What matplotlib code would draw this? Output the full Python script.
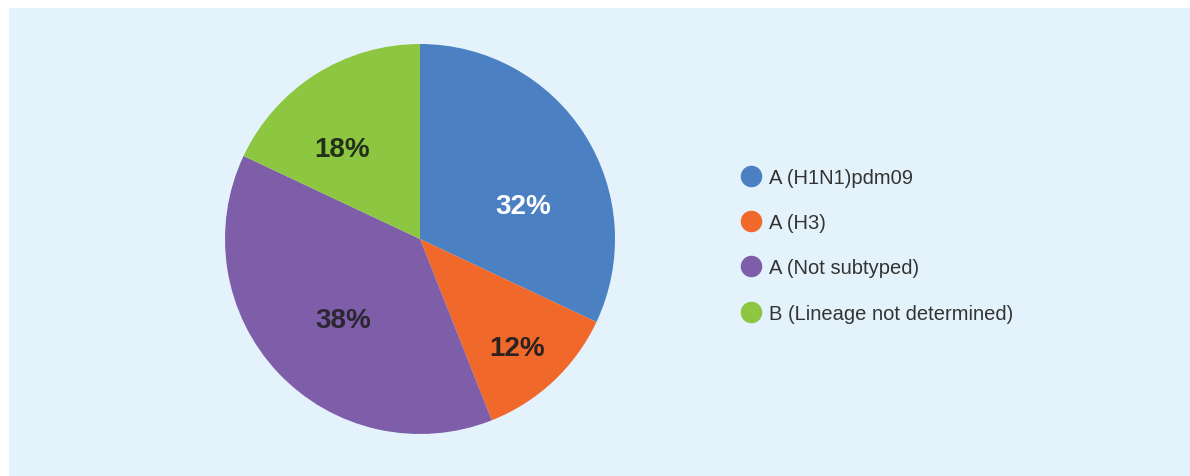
import matplotlib
matplotlib.use("Agg")
import matplotlib.pyplot as plt
from matplotlib.lines import Line2D

categories = ["A (H1N1)pdm09", "A (H3)", "A (Not subtyped)", "B (Lineage not determined)"]
values = [32, 12, 38, 18]

colors = ["#4b80c3", "#f0682a", "#7e5ea8", "#8dc641"]
label_colors = ["white", "#2b2220", "#2b2630", "#23301a"]
# label positions (data coords, radius = 1)
label_pos = [(0.53, 0.17), (0.50, -0.56), (-0.395, -0.415), (-0.40, 0.46)]

W, H = 1190, 477
fig = plt.figure(figsize=(W / 100, H / 100), dpi=100)
fig.patch.set_facecolor("white")

bg = fig.add_axes([9 / W, 0, 1 - 9 / W, 1 - 9 / H])
bg.set_facecolor("#e4f3fb")
bg.set_xticks([])
bg.set_yticks([])
for s in bg.spines.values():
    s.set_visible(False)
bg.set_zorder(0)

cx, cy, r = 420, 240, 195
ax = fig.add_axes([(cx - r) / W, (H - cy - r) / H, 2 * r / W, 2 * r / H])
ax.set_zorder(2)
ax.set_facecolor("none")
wedges, _ = ax.pie(values, colors=colors, startangle=90, counterclock=False,
                   radius=1, wedgeprops=dict(linewidth=0))
ax.set_xlim(-1, 1)
ax.set_ylim(-1, 1)
ax.set_aspect("equal")
ax.axis("off")

for v, (x, y), c in zip(values, label_pos, label_colors):
    ax.text(x, y, f"{v}%", ha="center", va="center", fontsize=20, fontweight="bold",
            color=c, family="Liberation Sans")

handles = [Line2D([], [], marker="o", linestyle="none", markersize=15.5,
                  markerfacecolor=c, markeredgecolor="none") for c in colors]
leg = fig.legend(handles, categories, loc="upper left",
                 bbox_to_anchor=(729 / W, 1 - 159 / H), frameon=False,
                 prop=dict(family="Liberation Sans", size=14.5),
                 labelspacing=1.3, handletextpad=0.3, handlelength=1.2, borderpad=0)
leg.set_zorder(3)
for t in leg.get_texts():
    t.set_color("#333333")

fig.savefig("out.png", dpi=100)
